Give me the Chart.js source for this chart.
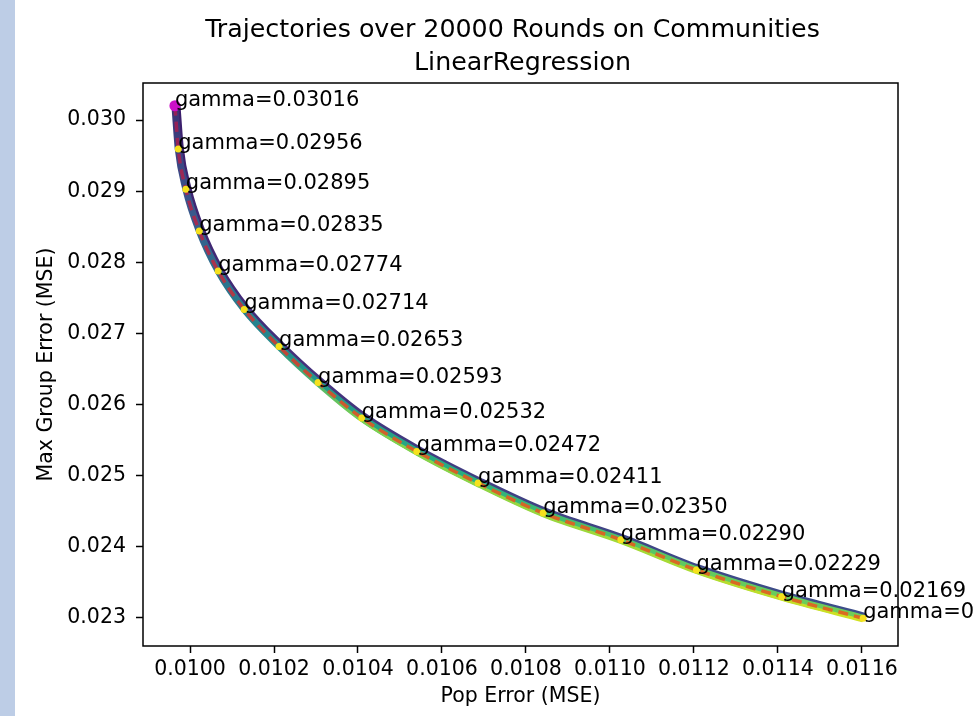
<!DOCTYPE html>
<html lang="en">
<head>
    <meta charset="UTF-8">
    <title>Trajectories over 20000 Rounds on Communities</title>
    <script src="https://cdn.jsdelivr.net/npm/chart.js"></script>
    <style>
        html, body { margin: 0; padding: 0; background: #fff; }
        #strip { position: absolute; left: 0; top: 0; width: 15px; height: 716px; background: #bdcde6; }
        #myChart { position: absolute; left: 0; top: 0; }
    </style>
</head>
<body>
    <div id="strip"></div>
    <canvas id="myChart" width="973" height="716"></canvas>
    <script>
        // values
        const gammas = ['0.03016', '0.02956', '0.02895', '0.02835', '0.02774', '0.02714', '0.02653', '0.02593',
                        '0.02532', '0.02472', '0.02411', '0.02350', '0.02290', '0.02229', '0.02169', '0.02108'];
        const popError = [0.009964, 0.009972, 0.009990, 0.010022, 0.010067, 0.010129, 0.010212, 0.010305,
                          0.010409, 0.010540, 0.010686, 0.010841, 0.011026, 0.011206, 0.011409, 0.011603];
        const maxGroupError = [0.030201, 0.029592, 0.029028, 0.028441, 0.027877, 0.027338, 0.026817, 0.026310,
                               0.025813, 0.025342, 0.024897, 0.024475, 0.024099, 0.023676, 0.023300, 0.022996];
        const xTicks = [0.0100, 0.0102, 0.0104, 0.0106, 0.0108, 0.0110, 0.0112, 0.0114, 0.0116];
        const yTicks = [0.023, 0.024, 0.025, 0.026, 0.027, 0.028, 0.029, 0.030];
        const titleLines = ['Trajectories over 20000 Rounds on Communities', 'LinearRegression'];

        const FONT = 'DejaVu Sans';
        const pts = popError.map((x, i) => ({ x: x, y: maxGroupError[i] }));

        // vertical gradient over the plot area
        function grad(stops) {
            return function (c) {
                const area = c.chart.chartArea;
                if (!area) return stops[0][1];
                const g = c.chart.ctx.createLinearGradient(0, area.top, 0, area.bottom);
                stops.forEach(s => g.addColorStop(s[0], s[1]));
                return g;
            };
        }

        // shift some layers a little so the band looks like stacked runs
        const shiftPlugin = {
            id: 'shift',
            beforeDatasetDraw(chart, args) {
                const ds = chart.data.datasets[args.index];
                if (ds.shift) {
                    chart.ctx.save();
                    chart.ctx.translate(ds.shift[0], ds.shift[1]);
                }
            },
            afterDatasetDraw(chart, args) {
                const ds = chart.data.datasets[args.index];
                if (ds.shift) chart.ctx.restore();
            }
        };

        const labelPlugin = {
            id: 'labels',
            afterDatasetsDraw(chart) {
                const ctx = chart.ctx;
                const xs = chart.scales.x, ys = chart.scales.y;
                ctx.save();
                ctx.font = '21px "' + FONT + '"';
                ctx.fillStyle = '#000';
                ctx.textAlign = 'left';
                ctx.textBaseline = 'alphabetic';
                gammas.forEach((g, i) => {
                    ctx.fillText('gamma=' + g, xs.getPixelForValue(popError[i]), ys.getPixelForValue(maxGroupError[i]));
                });
                ctx.restore();
            },
            afterDraw(chart) {
                const ctx = chart.ctx;
                const a = chart.chartArea;
                ctx.save();
                ctx.strokeStyle = '#000';
                ctx.lineWidth = 1.5;
                ctx.strokeRect(a.left, a.top, a.right - a.left, a.bottom - a.top);
                ctx.font = '25.3px "' + FONT + '"';
                ctx.fillStyle = '#000';
                ctx.textAlign = 'center';
                ctx.textBaseline = 'alphabetic';
                const cx = (a.left + a.right) / 2;
                ctx.fillText(titleLines[0], cx - 8, 37);
                ctx.fillText(titleLines[1], cx + 2, 70);
                ctx.restore();
            }
        };

        const ctx = document.getElementById('myChart').getContext('2d');
        new Chart(ctx, {
            type: 'line',
            data: {
                datasets: [
                    {
                        data: pts, order: 6, shift: [1.5, -1.5],
                        borderColor: grad([[0, '#3a1d6a'], [0.5, '#45307c'], [1, '#3b528b']]),
                        borderWidth: 8, pointRadius: 0, cubicInterpolationMode: 'monotone'
                    },
                    {
                        data: pts, order: 5,
                        borderColor: grad([[0, '#3a2a70'], [0.2, '#3b528b'], [0.35, '#2c728e'], [0.5, '#21918c'],
                                           [0.7, '#28ae80'], [0.85, '#5ec962'], [1, '#7ad151']]),
                        borderWidth: 7, pointRadius: 0, cubicInterpolationMode: 'monotone'
                    },
                    {
                        data: pts, order: 4, shift: [-0.5, 2.5],
                        borderColor: grad([[0, 'rgba(122,209,81,0)'], [0.45, 'rgba(122,209,81,0)'], [0.6, '#7ad151'], [0.85, '#a8db34'], [1, '#e7e419']]),
                        borderWidth: 3, pointRadius: 0, cubicInterpolationMode: 'monotone'
                    },
                    {
                        data: pts, order: 3,
                        borderColor: grad([[0, '#8e1d5a'], [0.3, '#a8304f'], [0.5, '#c24a35'], [0.6, '#d0602a'], [1, '#dd6d20']]),
                        borderWidth: 3.5, borderDash: [10, 6], pointRadius: 0, cubicInterpolationMode: 'monotone'
                    },
                    {
                        data: pts, order: 2, showLine: false,
                        pointRadius: 3.5, pointBackgroundColor: '#f6e11c', pointBorderWidth: 0
                    },
                    {
                        data: pts.slice(0, 1), order: 1, showLine: false,
                        pointRadius: 5.5, pointBackgroundColor: '#cc10c8', pointBorderWidth: 0
                    }
                ]
            },
            plugins: [shiftPlugin, labelPlugin],
            options: {
                responsive: false,
                animation: false,
                devicePixelRatio: 1,
                layout: { padding: { top: 83, right: 75, bottom: 0, left: 0 } },
                plugins: {
                    legend: { display: false },
                    tooltip: { enabled: false }
                },
                scales: {
                    x: {
                        type: 'linear',
                        min: 0.009888,
                        max: 0.011686,
                        afterBuildTicks: s => { s.ticks = xTicks.map(v => ({ value: v })); },
                        afterFit: s => { s.height = 70; },
                        ticks: {
                            autoSkip: false, maxRotation: 0, padding: 4, color: '#000',
                            font: { family: FONT, size: 20.5 },
                            callback: v => v.toFixed(4)
                        },
                        grid: { drawOnChartArea: false, drawTicks: true, tickLength: 7, tickWidth: 1.5, tickColor: '#000' },
                        border: { display: false },
                        title: {
                            display: true, text: 'Pop Error (MSE)', color: '#000',
                            font: { family: FONT, size: 20.5 }, padding: { top: 0, bottom: 7 }
                        }
                    },
                    y: {
                        type: 'linear',
                        min: 0.022606,
                        max: 0.030521,
                        afterBuildTicks: s => { s.ticks = yTicks.map(v => ({ value: v })); },
                        afterFit: s => { s.width = 143; },
                        ticks: {
                            autoSkip: false, padding: 10, color: '#000',
                            font: { family: FONT, size: 20.5 },
                            callback: v => v.toFixed(3)
                        },
                        grid: { drawOnChartArea: false, drawTicks: true, tickLength: 7, tickWidth: 1.5, tickColor: '#000' },
                        border: { display: false },
                        title: {
                            display: true, text: 'Max Group Error (MSE)', color: '#000',
                            font: { family: FONT, size: 20.5 }, padding: { top: 34, bottom: 0 }
                        }
                    }
                }
            }
        });
    </script>
</body>
</html>
